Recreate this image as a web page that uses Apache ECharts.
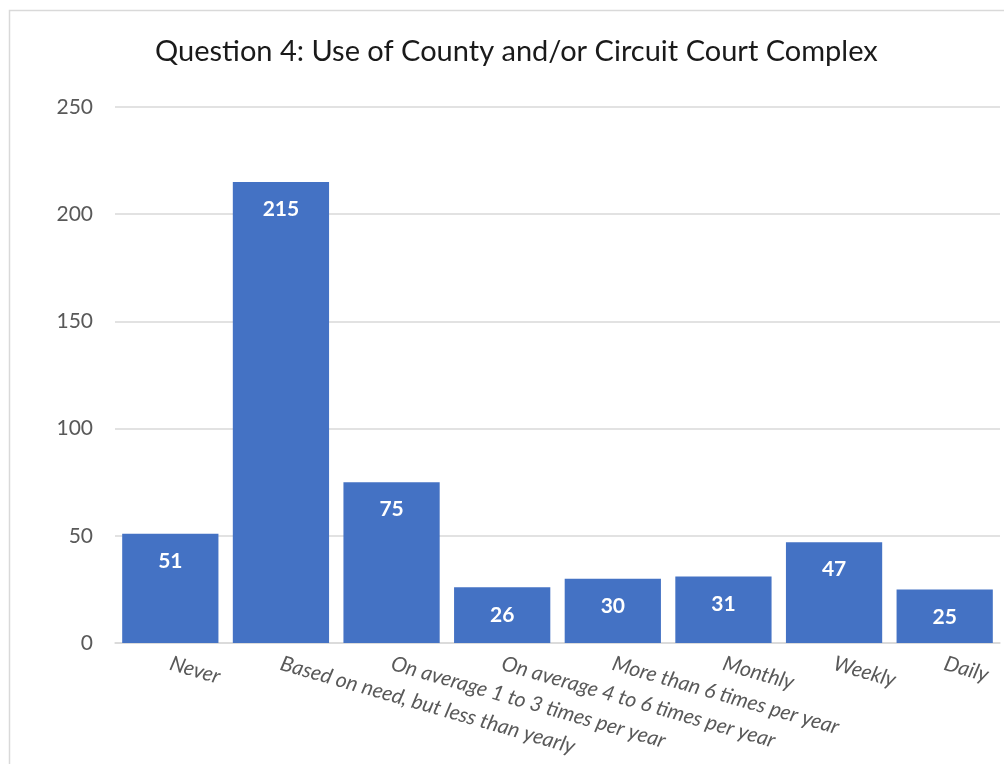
<!DOCTYPE html>
<html><head><meta charset="utf-8">
<script src="https://cdn.jsdelivr.net/npm/echarts@6/dist/echarts.min.js"></script>
<style>html,body{margin:0;padding:0;background:#fff}#c{width:1004px;height:764px}</style>
</head><body><div id="c"></div>
<script>
const categories = ["Never","Based on need, but less than yearly","On average 1 to 3 times per year","On average 4 to 6 times per year","More than 6 times per year","Monthly","Weekly","Daily"];
const values = [51,215,75,26,30,31,47,25];
const yTicks = {min:0,max:250,interval:50};
const titleText = "Question 4: Use of County and/or Circuit Court Complex";

const chart = echarts.init(document.getElementById('c'));
chart.setOption({
  animation:false,
  textStyle:{fontFamily:'Lato'},
  graphic:[{type:'rect',left:7,top:8,shape:{width:1020,height:800},style:{fill:'none',stroke:'#d9d9d9',lineWidth:1.5},silent:true}],
  title:{text:titleText,left:150,top:32,textStyle:{fontFamily:'Lato',fontSize:29,fontWeight:'normal',color:'#1a1a1a'}},
  grid:{left:115,right:4,top:107,bottom:121},
  xAxis:{type:'category',data:categories,
    axisLine:{lineStyle:{color:'#d9d9d9',width:1.5}},axisTick:{show:false},
    axisLabel:{interval:0,rotate:-16,margin:20,fontSize:21,fontStyle:'italic',color:'#595959',fontFamily:'Lato'}},
  yAxis:{type:'value',min:yTicks.min,max:yTicks.max,interval:yTicks.interval,
    axisLine:{show:false},axisTick:{show:false},
    axisLabel:{fontSize:21,color:'#595959',margin:22,fontFamily:'Lato'},
    splitLine:{lineStyle:{color:'#d9d9d9',width:1.5}}},
  series:[{type:'bar',data:values,barCategoryGap:'13%',
    itemStyle:{color:'#4472C4'},
    label:{show:true,position:'insideTop',distance:17,color:'#fff',fontWeight:'bold',fontSize:21,fontFamily:'Lato'}}]
});
</script></body></html>
